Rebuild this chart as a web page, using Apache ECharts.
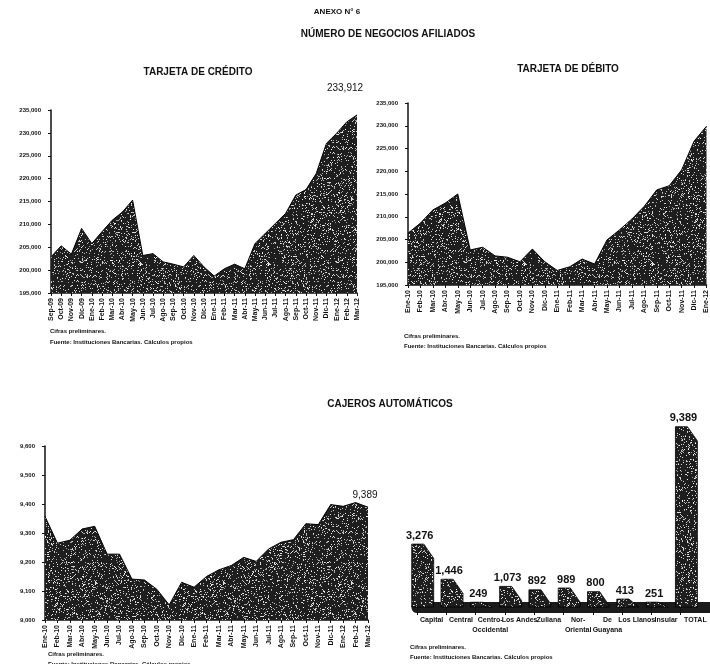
<!DOCTYPE html>
<html>
<head>
<meta charset="utf-8">
<script src="https://cdn.jsdelivr.net/npm/echarts@6/dist/echarts.min.js"></script>
<style>
  html, body { margin: 0; padding: 0; background: #ffffff; }
  #chart { width: 710px; height: 664px; }
</style>
</head>
<body>
<div id="chart"></div>
<script>
// Tarjeta de crédito: negocios afiliados por mes
const creditMonths = ["Sep-09","Oct-09","Nov-09","Dic-09","Ene-10","Feb-10","Mar-10","Abr-10","May-10","Jun-10","Jul-10","Ago-10","Sep-10","Oct-10","Nov-10","Dic-10","Ene-11","Feb-11","Mar-11","Abr-11","May-11","Jun-11","Jul-11","Ago-11","Sep-11","Oct-11","Nov-11","Dic-11","Ene-12","Feb-12","Mar-12"];
const creditValues = [202900, 205300, 203500, 209100, 205800, 208400, 210900, 212700, 215300, 203200, 203600, 201800, 201300, 200700, 203200, 200700, 198700, 200300, 201300, 200300, 205800, 208000, 210200, 212400, 216400, 217600, 221100, 227700, 229900, 232400, 233912];

// Tarjeta de débito
const debitMonths = ["Ene-10","Feb-10","Mar-10","Abr-10","May-10","Jun-10","Jul-10","Ago-10","Sep-10","Oct-10","Nov-10","Dic-10","Ene-11","Feb-11","Mar-11","Abr-11","May-11","Jun-11","Jul-11","Ago-11","Sep-11","Oct-11","Nov-11","Dic-11","Ene-12"];
const debitValues = [206400, 208600, 211500, 213000, 215000, 202700, 203300, 201400, 201100, 200100, 202900, 200100, 198200, 199000, 200700, 199600, 204900, 207100, 209500, 212300, 215900, 216800, 220300, 226600, 229900];

// Cajeros automáticos por mes
const atmMonths = ["Ene-10","Feb-10","Mar-10","Abr-10","May-10","Jun-10","Jul-10","Ago-10","Sep-10","Oct-10","Nov-10","Dic-10","Ene-11","Feb-11","Mar-11","Abr-11","May-11","Jun-11","Jul-11","Ago-11","Sep-11","Oct-11","Nov-11","Dic-11","Ene-12","Feb-12","Mar-12"];
const atmValues = [9357, 9265, 9275, 9314, 9323, 9227, 9227, 9141, 9138, 9106, 9052, 9130, 9113, 9150, 9173, 9188, 9216, 9202, 9245, 9268, 9277, 9332, 9329, 9398, 9392, 9405, 9389];

// Cajeros automáticos por región
const regions = ["Capital", "Central", "Centro-\nOccidental", "Los Andes", "Zuliana", "Nor-\nOriental", "De\nGuayana", "Los Llanos", "Insular", "TOTAL"];
const regionATMs = [3276, 1446, 249, 1073, 892, 989, 800, 413, 251, 9389];

const cardTicks = { min: 195000, max: 235000, interval: 5000 };
const atmTicks = { min: 9000, max: 9600, interval: 100 };

const INK = '#111111';
const SANS = '"Liberation Sans", Arial, sans-serif';

// Stippled dark fill: a deterministic speckle tile, like a photocopied halftone
function mix(x, y) {
  let k = Math.imul(x, 0x27d4eb2d) ^ Math.imul(y + 0x165667b1, 0x85ebca6b);
  k ^= k >>> 15; k = Math.imul(k, 0x2c1b3c6d);
  k ^= k >>> 12; k = Math.imul(k, 0x297a2d39);
  k ^= k >>> 15;
  return k >>> 0;
}
function stipple() {
  const w = 128, h = 128;
  const c = document.createElement('canvas');
  c.width = w; c.height = h;
  const ctx = c.getContext('2d');
  ctx.fillStyle = '#1e1e1e';
  ctx.fillRect(0, 0, w, h);
  const img = ctx.getImageData(0, 0, w, h);
  for (let y = 0; y < h; y++) {
    for (let x = 0; x < w; x++) {
      const k = mix(x, y);
      if (k % 1000 < 140) {
        const i = (y * w + x) * 4;
        const g = 150 + (k >>> 12) % 100;
        img.data[i] = g; img.data[i + 1] = g; img.data[i + 2] = g;
      }
    }
  }
  ctx.putImageData(img, 0, 0);
  return { image: c, repeat: 'repeat' };
}
const FILL = stipple();

const fmt = v => v.toLocaleString('en-US');

function lastLabel(values, offset) {
  return values.map((v, i) => i === values.length - 1
    ? { value: v, label: { show: true, position: 'top', offset: offset, formatter: p => fmt(p.value),
        fontFamily: SANS, fontSize: 10, color: INK } }
    : v);
}

function timeX(gridIndex, months) {
  return {
    type: 'category', gridIndex, data: months, boundaryGap: false,
    axisLine: { lineStyle: { color: INK, width: 1.5 } },
    axisTick: { show: true, length: 3, interval: 0, lineStyle: { color: INK } },
    axisLabel: { interval: 0, rotate: 90, fontSize: 7, fontWeight: 'bold', fontFamily: SANS, color: INK, margin: 5 }
  };
}

function valueY(gridIndex, ticks) {
  return {
    type: 'value', gridIndex, min: ticks.min, max: ticks.max, interval: ticks.interval,
    axisLine: { show: true, lineStyle: { color: INK, width: 1.5 } },
    axisTick: { show: true, length: 3, lineStyle: { color: INK } },
    splitLine: { show: false },
    axisLabel: { fontSize: 6, fontWeight: 'bold', fontFamily: SANS, color: INK, margin: 10, formatter: v => fmt(v) }
  };
}

function areaSeries(x, y, data) {
  return {
    type: 'line', xAxisIndex: x, yAxisIndex: y, data, silent: true,
    symbol: 'circle', symbolSize: 0.5, showSymbol: true, itemStyle: { color: '#000' },
    lineStyle: { color: '#000', width: 1 },
    areaStyle: { color: FILL, opacity: 1, origin: 'start' }
  };
}

function heading(text, left, top, size) {
  return { text, left, top, textAlign: 'center', padding: 0,
    textStyle: { fontSize: size, fontWeight: 'bold', fontFamily: SANS, color: INK } };
}

function note(text, left, top) {
  return { text, left, top, padding: 0,
    textStyle: { fontSize: 6, fontWeight: 'bold', fontFamily: SANS, color: INK } };
}

const chart = echarts.init(document.getElementById('chart'), null, { renderer: 'canvas' });

chart.setOption({
  backgroundColor: '#ffffff',
  animation: false,
  title: [
    heading('ANEXO N° 6', 337, 8, 8),
    heading('NÚMERO DE NEGOCIOS AFILIADOS', 388, 29, 10),
    heading('TARJETA DE CRÉDITO', 198, 67, 10),
    heading('TARJETA DE DÉBITO', 568, 64, 10),
    heading('CAJEROS AUTOMÁTICOS', 390, 399, 10),
    note('Cifras preliminares.', 50, 328),
    note('Fuente: Instituciones Bancarias. Cálculos propios', 50, 339),
    note('Cifras preliminares.', 404, 333),
    note('Fuente: Instituciones Bancarias. Cálculos propios', 404, 343),
    note('Cifras preliminares.', 48, 651),
    note('Fuente: Instituciones Bancarias. Cálculos propios', 48, 661),
    note('Cifras preliminares.', 410, 644),
    note('Fuente: Instituciones Bancarias. Cálculos propios', 410, 654)
  ],
  grid: [
    { left: 51, top: 110, width: 306, height: 183 },
    { left: 408, top: 103, width: 300, height: 182 },
    { left: 45, top: 446, width: 323, height: 174 },
    { left: 417, top: 415, width: 294, height: 192 }
  ],
  xAxis: [
    timeX(0, creditMonths),
    timeX(1, debitMonths),
    timeX(2, atmMonths),
    {
      type: 'category', gridIndex: 3, data: regions,
      axisLine: { lineStyle: { color: '#1b1b1b', width: 11 } },
      axisTick: { show: true, length: 8, interval: 0, lineStyle: { color: INK } },
      axisLabel: { interval: 0, fontSize: 7, fontWeight: 'bold', fontFamily: SANS, color: INK, margin: 8, lineHeight: 10 }
    }
  ],
  yAxis: [
    valueY(0, cardTicks),
    valueY(1, cardTicks),
    valueY(2, atmTicks),
    { type: 'value', gridIndex: 3, min: 0, max: 10000, show: false, splitLine: { show: false } }
  ],
  series: [
    areaSeries(0, 0, lastLabel(creditValues, [-12, -16])),
    areaSeries(1, 1, debitValues),
    areaSeries(2, 2, lastLabel(atmValues, [-3, -2])),
    {
      type: 'custom', xAxisIndex: 3, yAxisIndex: 3, silent: true,
      data: regionATMs.map((v, i) => [i, v]),
      renderItem: function (params, api) {
        const cat = api.value(0);
        const val = api.value(1);
        const center = api.coord([cat, 0])[0];
        const base = api.coord([cat, 0])[1];
        const top = api.coord([cat, val])[1];
        const band = api.size([1, 0])[0];
        const w = band * 0.75;
        const x0 = center - band * 0.68;
        const x1 = x0 + w;
        const slope = Math.min(top + w * 0.65, base);
        return {
          type: 'group',
          children: [
            {
              type: 'polygon',
              shape: { points: [[x0, top], [x0 + w * 0.55, top], [x1, slope], [x1, base], [x0, base]] },
              style: { fill: FILL, stroke: '#000', lineWidth: 0.8 }
            },
            {
              type: 'text',
              style: {
                text: fmt(val), x: x0 + w / 2 - 3, y: top - 3,
                align: 'center', verticalAlign: 'bottom',
                font: 'bold 11px ' + SANS, fill: INK
              }
            }
          ]
        };
      }
    }
  ]
});
</script>
</body>
</html>
